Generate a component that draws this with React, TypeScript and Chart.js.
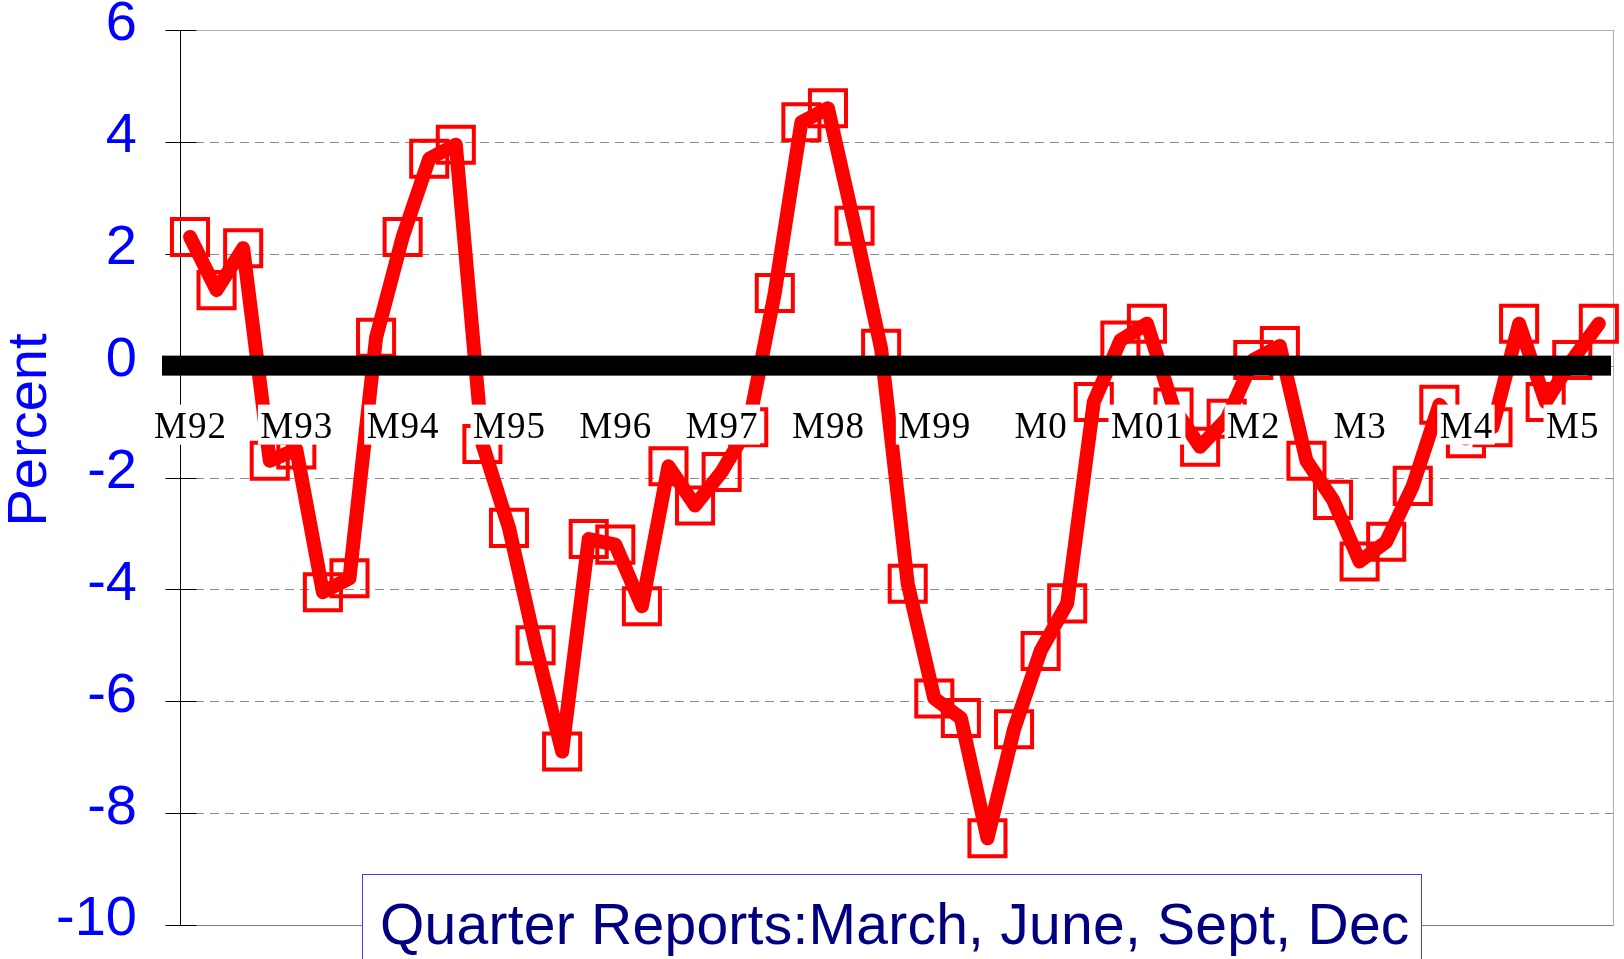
import React, { useEffect, useRef } from "react";
import { Chart, registerables } from "chart.js";

Chart.register(...registerables);

// Quarterly categories (March, June, Sept, Dec), 1992 Q1 .. 2005 Q2
const quarters: string[] = [
  "Mar 92", "Jun 92", "Sep 92", "Dec 92",
  "Mar 93", "Jun 93", "Sep 93", "Dec 93",
  "Mar 94", "Jun 94", "Sep 94", "Dec 94",
  "Mar 95", "Jun 95", "Sep 95", "Dec 95",
  "Mar 96", "Jun 96", "Sep 96", "Dec 96",
  "Mar 97", "Jun 97", "Sep 97", "Dec 97",
  "Mar 98", "Jun 98", "Sep 98", "Dec 98",
  "Mar 99", "Jun 99", "Sep 99", "Dec 99",
  "Mar 00", "Jun 00", "Sep 00", "Dec 00",
  "Mar 01", "Jun 01", "Sep 01", "Dec 01",
  "Mar 02", "Jun 02", "Sep 02", "Dec 02",
  "Mar 03", "Jun 03", "Sep 03", "Dec 03",
  "Mar 04", "Jun 04", "Sep 04", "Dec 04",
  "Mar 05", "Jun 05",
];

// Percent values
const values: number[] = [
  2.3, 1.35, 2.1, -1.7,
  -1.5, -4.05, -3.8, 0.5,
  2.3, 3.7, 3.95, -1.4,
  -2.9, -5.0, -6.9, -3.1,
  -3.2, -4.3, -1.8, -2.5,
  -1.9, -1.1, 1.3, 4.35,
  4.6, 2.5, 0.3, -3.9,
  -5.95, -6.3, -8.45, -6.5,
  -5.1, -4.25, -0.65, 0.45,
  0.75, -0.75, -1.45, -0.95,
  0.1, 0.35, -1.7, -2.4,
  -3.5, -3.15, -2.15, -0.7,
  -1.3, -1.1, 0.75, -0.65,
  0.1, 0.75,
];

// Category tick labels (shown at each March quarter)
const tickLabels: string[] = [
  "M92", "M93", "M94", "M95", "M96", "M97", "M98",
  "M99", "M0", "M01", "M2", "M3", "M4", "M5",
];
const tickQuarters: string[] = [
  "Mar 92", "Mar 93", "Mar 94", "Mar 95", "Mar 96", "Mar 97", "Mar 98",
  "Mar 99", "Mar 00", "Mar 01", "Mar 02", "Mar 03", "Mar 04", "Mar 05",
];

const yTicks: number[] = [6, 4, 2, 0, -2, -4, -6, -8, -10];
const yTitle = "Percent";
const noteText = "Quarter Reports:March, June, Sept, Dec";

const SANS = '"Liberation Sans", Arial, sans-serif';
const SERIF = '"Liberation Serif", "Times New Roman", serif';

const decorPlugin = {
  id: "decor",
  beforeDatasetsDraw(chart: any) {
    const { ctx, chartArea: a, scales } = chart;
    const y = scales.y;
    ctx.save();
    // dashed gridlines
    ctx.lineWidth = 1;
    ctx.strokeStyle = "#8a8a8a";
    ctx.setLineDash([9, 6]);
    for (const v of yTicks) {
      if (v === -10) continue;
      const py = Math.round(y.getPixelForValue(v)) + 0.5;
      ctx.beginPath();
      ctx.moveTo(a.left, py);
      ctx.lineTo(a.right, py);
      ctx.stroke();
    }
    ctx.setLineDash([]);
    // plot border (top, right, bottom)
    const top = Math.round(a.top) + 0.5;
    const bot = Math.round(a.bottom) + 0.5;
    const right = Math.round(a.right) - 0.5;
    ctx.strokeStyle = "#b0b0b0";
    ctx.beginPath();
    ctx.moveTo(a.left, top);
    ctx.lineTo(right, top);
    ctx.lineTo(right, bot);
    ctx.stroke();
    ctx.strokeStyle = "#808080";
    ctx.beginPath();
    ctx.moveTo(a.left, bot);
    ctx.lineTo(right, bot);
    ctx.stroke();
    // y axis line
    const ax = Math.round(a.left) + 0.5;
    ctx.strokeStyle = "#000000";
    ctx.beginPath();
    ctx.moveTo(ax, top);
    ctx.lineTo(ax, bot);
    ctx.stroke();
    // cross tick marks
    for (const v of yTicks) {
      const py = Math.round(y.getPixelForValue(v)) + 0.5;
      ctx.beginPath();
      ctx.moveTo(ax - 15, py);
      ctx.lineTo(ax + 16, py);
      ctx.stroke();
    }
    ctx.restore();
  },
  afterDatasetsDraw(chart: any) {
    const { ctx, chartArea: a, scales } = chart;
    const y = scales.y;
    const x = scales.x;
    const zeroY = y.getPixelForValue(0);
    ctx.save();
    // thick zero line
    ctx.fillStyle = "#000000";
    ctx.fillRect(a.left - 18, zeroY - 10, a.right - 3 - (a.left - 18), 20);
    // category labels with opaque boxes
    ctx.font = `37px ${SERIF}`;
    try {
      (ctx as any).letterSpacing = "1px";
    } catch (e) {}
    ctx.textAlign = "center";
    ctx.textBaseline = "alphabetic";
    tickLabels.forEach((lab, k) => {
      const idx = quarters.indexOf(tickQuarters[k]);
      const cx = x.getPixelForValue(idx);
      const w = ctx.measureText(lab).width;
      ctx.fillStyle = "#ffffff";
      ctx.fillRect(cx - w / 2 - 2, zeroY + 39, w + 4, 40);
      ctx.fillStyle = "#000000";
      ctx.fillText(lab, cx + 0.5, zeroY + 72);
    });
    ctx.restore();
  },
  afterDraw(chart: any) {
    const { ctx } = chart;
    ctx.save();
    // axis title
    ctx.fillStyle = "#0000ff";
    ctx.font = `56px ${SANS}`;
    ctx.translate(31, 430);
    ctx.rotate(-Math.PI / 2);
    ctx.textAlign = "center";
    ctx.textBaseline = "middle";
    ctx.fillText(yTitle, 0, 0);
    ctx.restore();

    // note box
    ctx.save();
    const bx = 362.5;
    const by = 874.5;
    const bw = 1421 - 362;
    const bh = 100;
    ctx.fillStyle = "#ffffff";
    ctx.fillRect(bx, by, bw, bh);
    ctx.strokeStyle = "#3c3cff";
    ctx.lineWidth = 1;
    ctx.strokeRect(bx, by, bw, bh);
    ctx.fillStyle = "#000080";
    ctx.font = `57px ${SANS}`;
    try {
      (ctx as any).letterSpacing = "0.25px";
    } catch (e) {}
    ctx.textAlign = "left";
    ctx.textBaseline = "alphabetic";
    ctx.fillText(noteText, 380, 944);
    ctx.restore();
  },
};

export default function App() {
  const canvasRef = useRef<HTMLCanvasElement | null>(null);

  useEffect(() => {
    const canvas = canvasRef.current;
    if (!canvas) return;
    const chart = new Chart(canvas, {
      type: "line",
      data: {
        labels: quarters,
        datasets: [
          {
            label: "Percent",
            data: values.map((v, i) => ({ x: i, y: v })),
            borderColor: "#ff0000",
            borderWidth: 14,
            borderJoinStyle: "round",
            borderCapStyle: "round",
            tension: 0,
            pointStyle: "rect",
            pointRadius: 25.5,
            pointBorderWidth: 4,
            pointBorderColor: "#ff0000",
            pointBackgroundColor: "rgba(0,0,0,0)",
            clip: 40,
          } as any,
        ],
      },
      options: {
        responsive: false,
        devicePixelRatio: 1,
        animation: false,
        layout: {
          autoPadding: false,
          padding: { top: 30, right: 10, bottom: 34, left: 0 },
        },
        plugins: {
          legend: { display: false },
          tooltip: { enabled: false },
          title: { display: false },
        },
        scales: {
          x: {
            type: "linear",
            min: -0.376,
            max: 53.57,
            display: false,
          },
          y: {
            type: "linear",
            min: -10,
            max: 6,
            afterFit: (scale: any) => {
              scale.width = 180;
              scale.paddingTop = 0;
              scale.paddingBottom = 0;
            },
            afterBuildTicks: (scale: any) => {
              scale.ticks = yTicks.map((v) => ({ value: v }));
            },
            grid: { display: false, drawTicks: false, tickLength: 0 },
            border: { display: false },
            ticks: {
              color: "#0000ff",
              font: { family: SANS, size: 56 },
              padding: 43,
              labelOffset: -5,
              autoSkip: false,
              callback: (v: any) => String(v),
            },
          },
        },
      } as any,
      plugins: [decorPlugin],
    });
    return () => chart.destroy();
  }, []);

  return (
    <div
      style={{
        position: "absolute",
        left: 0,
        top: 0,
        width: 1624,
        height: 959,
        background: "#ffffff",
        overflow: "hidden",
      }}
    >
      <canvas
        ref={canvasRef}
        width={1624}
        height={959}
        style={{ display: "block", width: 1624, height: 959 }}
      />
    </div>
  );
}
